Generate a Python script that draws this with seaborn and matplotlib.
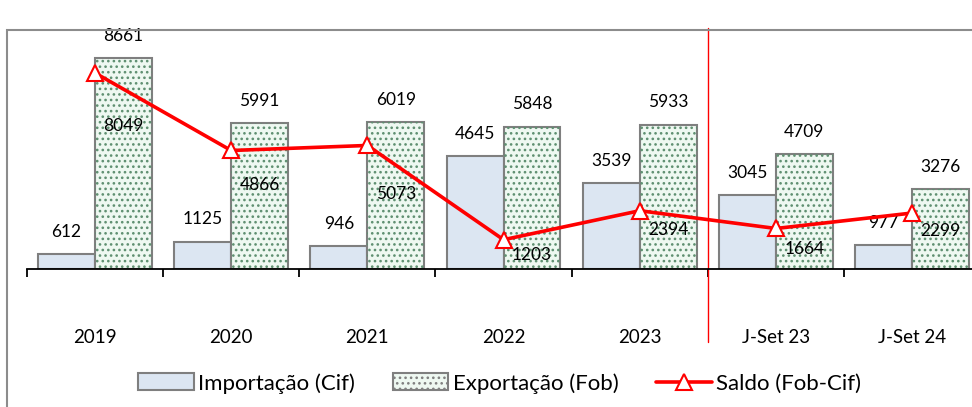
import matplotlib
matplotlib.use('Agg')
import matplotlib.pyplot as plt
import seaborn as sns
import pandas as pd
import numpy as np
from matplotlib.patches import Patch, Rectangle
from matplotlib.lines import Line2D

periods = ['2019', '2020', '2021', '2022', '2023', 'J-Set 23', 'J-Set 24']
importacao = [612, 1125, 946, 4645, 3539, 3045, 977]
exportacao = [8661, 5991, 6019, 5848, 5933, 4709, 3276]
saldo = [8049, 4866, 5073, 1203, 2394, 1664, 2299]
# manual drop of saldo labels below the markers (points), as placed in the original
saldo_label_drop = [38, 25, 35, 11, 14, 15, 13]

imp_color = '#DCE6F2'
exp_color = '#EEF8F1'
dot_color = '#5E8F70'
edge_gray = '#7F7F7F'
red = '#FF0000'

sns.set_style('white')
plt.rcParams['font.family'] = ['Lato', 'DejaVu Sans']
plt.rcParams['text.color'] = 'black'
plt.rcParams['xtick.color'] = 'black'
plt.rcParams['hatch.linewidth'] = 1.1

df = pd.DataFrame({'periodo': periods * 2,
                   'valor': importacao + exportacao,
                   'serie': ['Importação (Cif)'] * 7 + ['Exportação (Fob)'] * 7})

fig = plt.figure(figsize=(9.72, 4.07), dpi=100)
ax = fig.add_axes([0.0277, 0.339, 0.9807, 0.5985])

palette = {'Importação (Cif)': imp_color, 'Exportação (Fob)': exp_color}
sns.barplot(data=df, x='periodo', y='valor', hue='serie', palette=palette,
            width=0.836, gap=0, ax=ax, legend=False, saturation=1,
            edgecolor=edge_gray, linewidth=1.5)

n = len(periods)
imp_bars = ax.patches[:n]
exp_bars = ax.patches[n:2 * n]

# dotted fill on export bars, drawn as a separate layer so the outline stays gray
for b in exp_bars:
    dots = Rectangle((b.get_x(), b.get_y()), b.get_width(), b.get_height(),
                     facecolor='none', edgecolor=dot_color, hatch='...',
                     linewidth=0, zorder=b.get_zorder() + 0.1)
    ax.add_patch(dots)

x = np.arange(n)
sns.lineplot(x=x, y=saldo, ax=ax, color=red, linewidth=2.6, marker='^',
             markersize=12, markerfacecolor='white', markeredgecolor=red,
             markeredgewidth=1.5, zorder=5)

fs = 12.5
for b, v in zip(imp_bars, importacao):
    ax.annotate(str(v), (b.get_x() + b.get_width() / 2, v), xytext=(0, 16),
                textcoords='offset points', ha='center', va='center', fontsize=fs)
for b, v in zip(exp_bars, exportacao):
    ax.annotate(str(v), (b.get_x() + b.get_width() / 2, v), xytext=(0, 16),
                textcoords='offset points', ha='center', va='center', fontsize=fs)
for b, v, d in zip(exp_bars, saldo, saldo_label_drop):
    ax.annotate(str(v), (b.get_x() + b.get_width() / 2, v), xytext=(0, -d),
                textcoords='offset points', ha='center', va='center', fontsize=fs,
                zorder=6)

ax.set_ylim(0, 10000)
ax.set_xlim(-0.5, n - 0.5)
ax.set_yticks([])
ax.set_xlabel('')
ax.set_ylabel('')
for s in ['top', 'right', 'left']:
    ax.spines[s].set_visible(False)
ax.spines['bottom'].set_color('black')
ax.spines['bottom'].set_linewidth(1.3)

ax.set_xticks(x)
ax.set_xticklabels(periods, fontsize=13.5)
ax.tick_params(axis='x', which='major', length=0, pad=43)
ax.set_xticks(np.arange(-0.5, n, 1.0), minor=True)
ax.tick_params(axis='x', which='minor', bottom=True, length=6, width=1.3,
               color='black', direction='out')

# separator between annual and Jan-Sep periods
ax.axvline(4.5, ymin=-0.30, ymax=0.99, color=red, linewidth=1, clip_on=False)

# outer chart frame
fig.patches.append(Rectangle((0.0072, -0.05), 1.05, 0.9755, transform=fig.transFigure,
                             facecolor='none', edgecolor='#8C8C8C', linewidth=1.5))

handles = [Patch(facecolor=imp_color, edgecolor=edge_gray, linewidth=1.5),
           Patch(facecolor=exp_color, edgecolor=edge_gray, hatch='...', linewidth=1.5),
           Line2D([], [], color=red, linewidth=2.6, marker='^', markersize=11,
                  markerfacecolor='white', markeredgecolor=red, markeredgewidth=1.5)]
labels = ['Importação (Cif)', 'Exportação (Fob)', 'Saldo (Fob-Cif)']
fig.legend(handles, labels, loc='center', bbox_to_anchor=(0.514, 0.058), ncol=3,
           frameon=False, fontsize=16, handlelength=2.5, handleheight=0.8,
           handletextpad=0.2, columnspacing=1.7)

fig.savefig('out.png', dpi=100)
